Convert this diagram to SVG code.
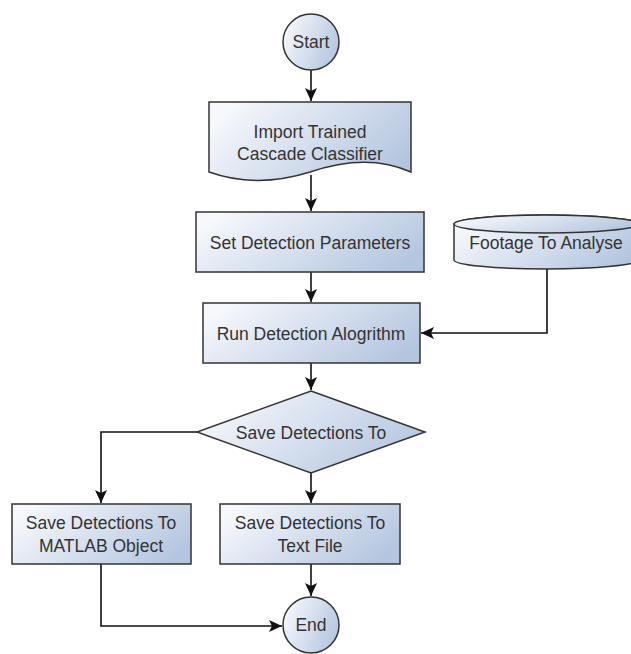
<svg xmlns="http://www.w3.org/2000/svg" width="631" height="654" viewBox="0 0 631 654">
<style>
.shape{fill:url(#g);stroke:#333;stroke-width:1.5}
.lbl{font-family:"Liberation Sans",Arial,sans-serif;font-size:17.5px;fill:#333;text-anchor:middle}
.con{fill:none;stroke:#111;stroke-width:1.6;marker-end:url(#ah)}
</style>
<defs>
<linearGradient id="g" x1="0" y1="0.3" x2="1" y2="0.7">
<stop offset="0" stop-color="#f6f8fc"/>
<stop offset="1" stop-color="#b3c5df"/>
</linearGradient>
<marker id="ah" markerUnits="userSpaceOnUse" markerWidth="14" markerHeight="12" refX="13" refY="6" orient="auto">
<path d="M0,0 L13,6 L0,12 L3,6 Z" fill="#111"/>
</marker>
</defs>
<rect width="631" height="654" fill="#fff"/>
<g id="connectors">
<path class="con" d="M311,70 V101"/>
<path class="con" d="M311,175 V211"/>
<path class="con" d="M311,272 V302"/>
<path class="con" d="M547,269 V333 H421"/>
<path class="con" d="M311,363 V390"/>
<path class="con" d="M197,432 H101 V503"/>
<path class="con" d="M311,473 V503"/>
<path class="con" d="M311,564 V596"/>
<path class="con" d="M101,564 V626 H282"/>
</g>
<g id="start">
<circle class="shape" cx="311" cy="42" r="28"/>
<text class="lbl" x="311" y="48">Start</text>
</g>
<g id="import">
<path class="shape" d="M209,102 H411 V172 C380,158 345,160 310,172 C275,183 240,183 209,172 Z"/>
<text class="lbl" x="310" y="138">Import Trained</text>
<text class="lbl" x="310" y="160">Cascade Classifier</text>
</g>
<g id="setparams">
<rect class="shape" x="196" y="212" width="228" height="60"/>
<text class="lbl" x="310" y="249">Set Detection Parameters</text>
</g>
<g id="footage">
<path class="shape" d="M454,224 V260 A92,9 0 0 0 638,260 V224 A92,9 0 0 0 454,224 Z"/>
<ellipse class="shape" cx="546" cy="224" rx="92" ry="9"/>
<text class="lbl" x="546" y="249">Footage To Analyse</text>
</g>
<g id="run">
<rect class="shape" x="203" y="303" width="217" height="60"/>
<text class="lbl" x="311" y="340">Run Detection Alogrithm</text>
</g>
<g id="decision">
<path class="shape" d="M311,391 L425,432 L311,473 L197,432 Z"/>
<text class="lbl" x="311" y="439">Save Detections To</text>
</g>
<g id="matlab">
<rect class="shape" x="12" y="504" width="179" height="60"/>
<text class="lbl" x="101" y="529">Save Detections To</text>
<text class="lbl" x="101" y="552">MATLAB Object</text>
</g>
<g id="textfile">
<rect class="shape" x="220" y="504" width="180" height="60"/>
<text class="lbl" x="310" y="529">Save Detections To</text>
<text class="lbl" x="310" y="552">Text File</text>
</g>
<g id="end">
<circle class="shape" cx="311" cy="625" r="28"/>
<text class="lbl" x="311" y="631">End</text>
</g>
</svg>
